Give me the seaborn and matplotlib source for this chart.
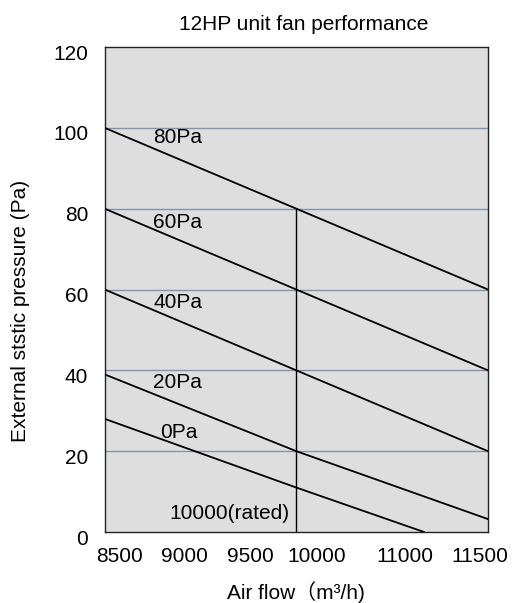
import seaborn as sns
import matplotlib.pyplot as plt
import matplotlib.transforms as mtransforms
import pandas as pd

# ----------------------------------------------------------------
# Data
# ----------------------------------------------------------------
curve_names = ['80Pa', '60Pa', '40Pa', '20Pa', '0Pa']
flow_80 = [8500, 11500]
pres_80 = [100, 60]
flow_60 = [8500, 11500]
pres_60 = [80, 40]
flow_40 = [8500, 11500]
pres_40 = [60, 20]
flow_20 = [8500, 10000, 11500]
pres_20 = [39, 20, 3.2]
flow_0 = [8500, 10000, 11000]
pres_0 = [28, 11, 0]

rated_flow = 10000
rated_top = 80
label_x = [8880, 8880, 8880, 8880, 8930]
label_y = [97.5, 76.5, 56.7, 36.9, 24.7]
grid_levels = [20, 40, 60, 80, 100]
x_ticks = [8500, 9000, 9500, 10000, 11000, 11500]
y_ticks = [0, 20, 40, 60, 80, 100, 120]

sns.set_style('white')
plt.rcParams['font.family'] = ['Liberation Sans', 'Noto Sans CJK SC', 'DejaVu Sans']
plt.rcParams['text.color'] = 'black'
plt.rcParams['axes.labelcolor'] = 'black'
plt.rcParams['xtick.color'] = 'black'
plt.rcParams['ytick.color'] = 'black'

fig = plt.figure(figsize=(5.14, 6.03), dpi=100)
ax = fig.add_axes([0.2037, 0.1177, 0.7457, 0.8043])
ax.set_facecolor('#dedede')

# horizontal guide lines
for g in grid_levels:
    ax.axhline(g, color='#8592a8', lw=1.0, zorder=1)

flows = [flow_80, flow_60, flow_40, flow_20, flow_0]
pres = [pres_80, pres_60, pres_40, pres_20, pres_0]
df = pd.concat([pd.DataFrame({'flow': f, 'pressure': p, 'curve': n})
                for f, p, n in zip(flows, pres, curve_names)])
sns.lineplot(data=df, x='flow', y='pressure', units='curve', estimator=None,
             color='black', lw=1.3, ax=ax, zorder=3)

# rated airflow marker
ax.plot([rated_flow, rated_flow], [0, rated_top], color='black', lw=1.0, zorder=3)
ax.text(rated_flow - 50, 4.7, '10000(rated)', ha='right', va='center', fontsize=15)

for n, lx, ly in zip(curve_names, label_x, label_y):
    ax.text(lx, ly, n, ha='left', va='center', fontsize=15)

ax.set_xlim(8500, 11500)
ax.set_ylim(0, 120)
ax.set_xticks(x_ticks)
ax.set_yticks(y_ticks)
ax.tick_params(length=0, labelsize=15)
ax.tick_params(axis='x', pad=11)
ax.tick_params(axis='y', pad=12)

# the original's tick labels sit slightly off their ticks; copy that look
x_label_shift = [15, 16, 17.5, 20.5, -19.5, -8]
for lab, dx in zip(ax.get_xticklabels(), x_label_shift):
    off = mtransforms.ScaledTranslation(dx / 100, 0, fig.dpi_scale_trans)
    lab.set_transform(lab.get_transform() + off)
y_off = mtransforms.ScaledTranslation(0, -5 / 100, fig.dpi_scale_trans)
for lab in ax.get_yticklabels():
    lab.set_transform(lab.get_transform() + y_off)

for s in ax.spines.values():
    s.set_color('#222222')
    s.set_linewidth(1.0)

ax.set_title('12HP unit fan performance', fontsize=15, pad=12, x=0.52)
ax.set_xlabel('Air flow（m³/h)', fontsize=15, labelpad=11)
ax.set_ylabel('External ststic pressure (Pa)', fontsize=15)
ax.yaxis.set_label_coords(-0.196, 0.455)

plt.savefig('out.png', dpi=100)
